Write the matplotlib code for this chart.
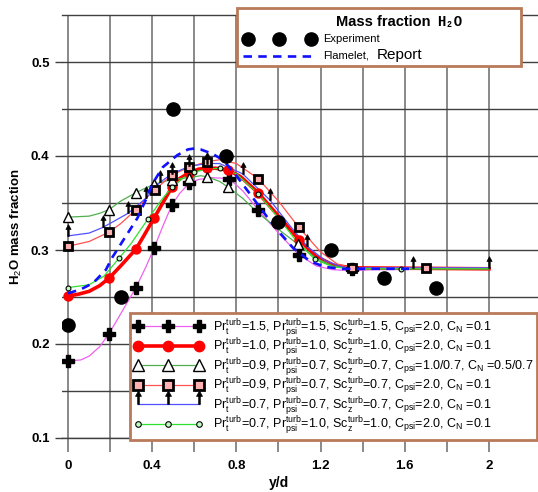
import numpy as np
import matplotlib
matplotlib.use('Agg')
import matplotlib.pyplot as plt
from matplotlib.lines import Line2D
from matplotlib.patches import Rectangle
from matplotlib.path import Path

plt.rcParams['font.family'] = ['Liberation Sans', 'DejaVu Sans']
plt.rcParams['mathtext.fontset'] = 'custom'
plt.rcParams['mathtext.rm'] = 'Liberation Sans'
plt.rcParams['mathtext.it'] = 'Liberation Sans'
plt.rcParams['mathtext.bf'] = 'Liberation Sans:bold'

# experiment
exp_x = [0.0, 0.25, 0.5, 0.75, 1.0, 1.25, 1.5, 1.75]
exp_y = [0.22, 0.25, 0.45, 0.40, 0.33, 0.30, 0.27, 0.26]

# flamelet (report)
fl_x = [0.0, 0.06, 0.12, 0.18, 0.21, 0.27, 0.33, 0.375, 0.40, 0.45, 0.52, 0.57, 0.60, 0.63,
        0.69, 0.74, 0.80, 0.85, 0.90, 0.95, 1.0, 1.07, 1.15, 1.22, 1.30, 1.62]
fl_y = [0.254, 0.258, 0.265, 0.279, 0.292, 0.313, 0.334, 0.356, 0.370, 0.388, 0.401, 0.407, 0.408, 0.407,
        0.402, 0.395, 0.379, 0.364, 0.349, 0.334, 0.320, 0.302, 0.288, 0.282, 0.280, 0.280]

# Pr_t=1.5 (plus)
s1_x = [0.0, 0.06, 0.1, 0.15, 0.195, 0.25, 0.323, 0.37, 0.409, 0.45, 0.494, 0.53, 0.575, 0.62,
        0.68, 0.765, 0.83, 0.903, 1.0, 1.097, 1.18, 1.26, 1.35, 1.45, 2.0]
s1_y = [0.182, 0.183, 0.187, 0.197, 0.211, 0.232, 0.260, 0.282, 0.302, 0.325, 0.348, 0.360, 0.371, 0.375,
        0.377, 0.376, 0.363, 0.343, 0.318, 0.295, 0.283, 0.279, 0.278, 0.279, 0.280]
s1_mx = [0.0, 0.195, 0.323, 0.409, 0.494, 0.575, 0.765, 0.903, 1.097, 1.35]
s1_my = [0.182, 0.211, 0.260, 0.302, 0.348, 0.371, 0.376, 0.343, 0.295, 0.280]

# Pr_t=1.0 (red circles)
s2_x = [0.0, 0.05, 0.1, 0.15, 0.195, 0.25, 0.323, 0.36, 0.409, 0.45, 0.494, 0.53, 0.575, 0.62,
        0.66, 0.70, 0.76, 0.82, 0.903, 1.0, 1.097, 1.18, 1.26, 1.35, 2.0]
s2_y = [0.251, 0.253, 0.256, 0.262, 0.270, 0.283, 0.301, 0.315, 0.334, 0.350, 0.367, 0.376, 0.382, 0.386,
        0.387, 0.387, 0.385, 0.378, 0.361, 0.336, 0.311, 0.293, 0.284, 0.281, 0.280]
s2_mx = [0.0, 0.195, 0.323, 0.409, 0.494, 0.575, 0.66, 0.76, 0.903, 1.097]
s2_my = [0.251, 0.270, 0.301, 0.334, 0.367, 0.382, 0.387, 0.385, 0.361, 0.311]

# Pr_t=0.9, C_psi=1.0/0.7 (triangles)
s3_x = [0.0, 0.1, 0.15, 0.195, 0.25, 0.323, 0.37, 0.41, 0.494, 0.575, 0.63, 0.66, 0.72, 0.76,
        0.83, 0.9, 1.0, 1.093, 1.18, 1.26, 1.35, 2.0]
s3_y = [0.335, 0.336, 0.339, 0.343, 0.352, 0.361, 0.366, 0.370, 0.375, 0.377, 0.379, 0.378, 0.373, 0.367,
        0.355, 0.340, 0.322, 0.306, 0.291, 0.283, 0.280, 0.280]
s3_mx = [0.0, 0.195, 0.323, 0.41, 0.494, 0.575, 0.66, 0.76, 1.093]
s3_my = [0.335, 0.343, 0.361, 0.370, 0.375, 0.377, 0.378, 0.367, 0.306]

# Pr_t=0.9, C_psi=2.0 (squares)
s4_x = [0.0, 0.1, 0.195, 0.25, 0.323, 0.37, 0.413, 0.494, 0.575, 0.66, 0.72, 0.8, 0.903, 1.0,
        1.097, 1.2, 1.28, 1.35, 2.0]
s4_y = [0.304, 0.309, 0.319, 0.328, 0.343, 0.355, 0.364, 0.380, 0.388, 0.394, 0.396, 0.392, 0.376, 0.352,
        0.324, 0.298, 0.285, 0.281, 0.281]
s4_mx = [0.0, 0.195, 0.323, 0.413, 0.494, 0.575, 0.66, 0.903, 1.097, 1.35, 1.7]
s4_my = [0.304, 0.319, 0.343, 0.364, 0.380, 0.388, 0.394, 0.376, 0.324, 0.281, 0.281]

# Pr_t=0.7, all 0.7 (arrows)
s5_x = [0.0, 0.1, 0.166, 0.285, 0.37, 0.437, 0.494, 0.575, 0.66, 0.72, 0.83, 0.96, 1.05, 1.135,
        1.22, 1.3, 1.35, 2.0]
s5_y = [0.315, 0.318, 0.324, 0.339, 0.355, 0.372, 0.381, 0.389, 0.392, 0.392, 0.381, 0.353, 0.327, 0.304,
        0.289, 0.282, 0.281, 0.281]
s5_mx = [0.0, 0.166, 0.285, 0.37, 0.437, 0.494, 0.575, 0.66, 0.83, 0.96, 1.135, 1.64, 2.0]
s5_my = [0.315, 0.324, 0.339, 0.355, 0.372, 0.381, 0.389, 0.392, 0.381, 0.353, 0.304, 0.281, 0.281]

# Pr_t=0.7, Pr_psi=1.0, Sc=1.0 (small circles)
s6_x = [0.0, 0.1, 0.17, 0.242, 0.3, 0.38, 0.44, 0.494, 0.55, 0.6, 0.66, 0.722, 0.8, 0.903,
        1.0, 1.08, 1.173, 1.26, 1.35, 2.0]
s6_y = [0.260, 0.263, 0.272, 0.291, 0.307, 0.333, 0.352, 0.367, 0.377, 0.383, 0.386, 0.387, 0.381, 0.360,
        0.334, 0.311, 0.290, 0.282, 0.280, 0.280]
s6_mx = [0.0, 0.242, 0.38, 0.494, 0.6, 0.722, 0.903, 1.173, 1.58]
s6_my = [0.260, 0.291, 0.333, 0.367, 0.383, 0.387, 0.360, 0.290, 0.280]

labels = [
    r'Pr$_\mathrm{t}^\mathrm{turb}$=1.5, Pr$_\mathrm{psi}^\mathrm{turb}$=1.5, Sc$_\mathrm{z}^\mathrm{turb}$=1.5, C$_\mathrm{psi}$=2.0, C$_\mathrm{N}$ =0.1',
    r'Pr$_\mathrm{t}^\mathrm{turb}$=1.0, Pr$_\mathrm{psi}^\mathrm{turb}$=1.0, Sc$_\mathrm{z}^\mathrm{turb}$=1.0, C$_\mathrm{psi}$=2.0, C$_\mathrm{N}$ =0.1',
    r'Pr$_\mathrm{t}^\mathrm{turb}$=0.9, Pr$_\mathrm{psi}^\mathrm{turb}$=0.7, Sc$_\mathrm{z}^\mathrm{turb}$=0.7, C$_\mathrm{psi}$=1.0/0.7, C$_\mathrm{N}$ =0.5/0.7',
    r'Pr$_\mathrm{t}^\mathrm{turb}$=0.9, Pr$_\mathrm{psi}^\mathrm{turb}$=0.7, Sc$_\mathrm{z}^\mathrm{turb}$=0.7, C$_\mathrm{psi}$=2.0, C$_\mathrm{N}$ =0.1',
    r'Pr$_\mathrm{t}^\mathrm{turb}$=0.7, Pr$_\mathrm{psi}^\mathrm{turb}$=0.7, Sc$_\mathrm{z}^\mathrm{turb}$=0.7, C$_\mathrm{psi}$=2.0, C$_\mathrm{N}$ =0.1',
    r'Pr$_\mathrm{t}^\mathrm{turb}$=0.7, Pr$_\mathrm{psi}^\mathrm{turb}$=1.0, Sc$_\mathrm{z}^\mathrm{turb}$=1.0, C$_\mathrm{psi}$=2.0, C$_\mathrm{N}$ =0.1',
]

# upward arrow marker, base at the data point
arrow = Path([(-0.06, 0), (0.06, 0), (0.06, 0.6), (0.22, 0.6), (0, 1), (-0.22, 0.6),
              (-0.06, 0.6), (-0.06, 0), (-0.06, 0)],
             [1, 2, 2, 2, 2, 2, 2, 2, 79])

W, H = 538, 492
fig = plt.figure(figsize=(W / 100, H / 100), dpi=100)
ax = fig.add_axes([62 / W, (H - 438) / H, 476 / W, 423 / H])

styles = [
    (s1_x, s1_y, s1_mx, s1_my, dict(color='#f060f0', lw=0.9), dict(marker='P', ms=8, mfc='black', mec='black')),
    (s2_x, s2_y, s2_mx, s2_my, dict(color='#ff0000', lw=2.6), dict(marker='o', ms=6.5, mfc='#ff0000', mec='#ff0000')),
    (s3_x, s3_y, s3_mx, s3_my, dict(color='#50b050', lw=0.9), dict(marker='^', ms=7, mfc='white', mec='black', mew=1.0)),
    (s4_x, s4_y, s4_mx, s4_my, dict(color='#ff5050', lw=0.9), dict(marker='s', ms=6, mfc='#ffb0b0', mec='black', mew=2.0)),
    (s5_x, s5_y, s5_mx, s5_my, dict(color='#5050ff', lw=0.9), dict(marker=arrow, ms=17, mfc='black', mec='black', mew=0.5)),
    (s6_x, s6_y, s6_mx, s6_my, dict(color='#30e030', lw=0.9), dict(marker='o', ms=3.5, mfc='#c0ffc0', mec='black', mew=0.8)),
]

handles = []
for i, (x, y, mx, my, ls, ms) in enumerate(styles):
    ax.plot(x, y, zorder=3 + i * 0.1, **ls)
    ax.plot(mx, my, ls='none', zorder=4 + i * 0.1, **ms)
    handles.append(Line2D([], [], **ls, **ms))

ax.plot(fl_x, fl_y, color='#1010ff', lw=1.9, dashes=(3.2, 2.4), zorder=4.8)
ax.plot(exp_x, exp_y, ls='none', marker='o', ms=9.5, color='black', zorder=6)

ax.set_xlim(-0.0285, 2.233)
ax.set_ylim(0.1, 0.55)
ax.set_xticks(np.arange(0, 2.01, 0.4))
ax.set_xticklabels(['0', '0.4', '0.8', '1.2', '1.6', '2'])
ax.set_xticks(np.arange(0.2, 1.9, 0.4), minor=True)
ax.set_yticks([0.1, 0.2, 0.3, 0.4, 0.5])
ax.set_yticklabels(['0.1', '0.2', '0.3', '0.4', '0.5'])
ax.set_yticks([0.15, 0.25, 0.35, 0.45], minor=True)
ax.tick_params(axis='x', which='both', direction='out', length=10, width=1.3, color='#808080', pad=6)
ax.tick_params(axis='y', which='major', direction='out', length=5, width=1.0, color='#404040', pad=4)
ax.tick_params(axis='y', which='minor', length=0)
for lab in ax.get_xticklabels() + ax.get_yticklabels():
    lab.set_fontweight('bold')
    lab.set_fontsize(9.5)
ax.xaxis.grid(True, which='both', color='#808080', lw=1.3)
ax.yaxis.grid(True, which='both', color='#404040', lw=1.0)
ax.set_axisbelow(True)
for side in ['left', 'right']:
    ax.spines[side].set_visible(False)
for side in ['top', 'bottom']:
    ax.spines[side].set_color('#404040')
    ax.spines[side].set_linewidth(1.0)

ax.set_xlabel('y/d', fontweight='bold', fontsize=10)
ax.xaxis.set_label_coords((279 - 62) / 476, (438 - 476) / 423)
ax.set_ylabel(r'H$_2$O mass fraction', fontweight='bold', fontsize=9.5)
ax.yaxis.set_label_coords((24 - 62) / 476, 0.5)

# model legend
leg = ax.legend(handles, labels, loc='upper left', bbox_to_anchor=(130 / W, 1 - 313 / H),
                bbox_transform=fig.transFigure, numpoints=3, handlelength=5.5, handletextpad=0.85,
                fontsize=9, labelspacing=-0.2, borderpad=0.3, borderaxespad=0, fancybox=False,
                framealpha=1, edgecolor='#b87a5a', markerscale=1.15)
leg.get_frame().set_linewidth(2)
leg.set_zorder(10)


def fx(px):
    return px / W


def fy(py):
    return 1 - py / H


# experiment / flamelet legend box
fig.add_artist(Rectangle((fx(237), fy(66)), fx(521) - fx(237), fy(8) - fy(66), transform=fig.transFigure,
                         facecolor='white', edgecolor='#b87a5a', lw=2, zorder=10))
fig.text(fx(430), fy(22), 'Mass fraction', ha='right', va='center', fontsize=10.5, fontweight='bold', zorder=11)
fig.text(fx(437), fy(22), 'H₂O', ha='left', va='center', fontsize=10, fontweight='bold',
         family=['Liberation Mono', 'DejaVu Sans Mono'], zorder=11)
fig.add_artist(Line2D([fx(248), fx(279), fx(311)], [fy(39)] * 3, transform=fig.transFigure, ls='none',
                      marker='o', ms=9.5, color='black', zorder=11))
fig.text(fx(323), fy(39), 'Experiment', ha='left', va='center', fontsize=8, zorder=11)
fig.add_artist(Line2D([fx(243), fx(311)], [fy(56)] * 2, transform=fig.transFigure, color='#1010ff',
                      lw=1.9, dashes=(3.2, 2.4), zorder=11))
fig.text(fx(323), fy(56), 'Flamelet,', ha='left', va='center', fontsize=8, zorder=11)
fig.text(fx(377), fy(55), 'Report', ha='left', va='center', fontsize=11, zorder=11)

fig.savefig('out.png', dpi=100)
